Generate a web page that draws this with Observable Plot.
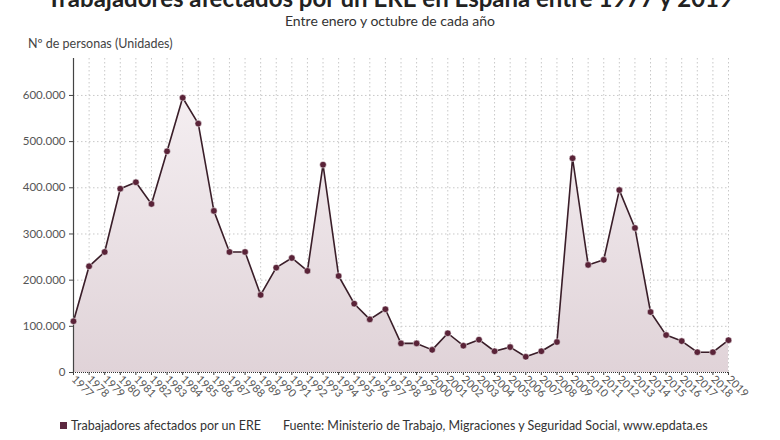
<!DOCTYPE html>
<html>
<head>
<meta charset="utf-8">
<script src="https://cdn.jsdelivr.net/npm/d3@7"></script>
<script src="https://cdn.jsdelivr.net/npm/@observablehq/plot@0.6"></script>
<style>
  html, body { margin: 0; padding: 0; background: #fff; }
  body { width: 780px; height: 440px; position: relative; overflow: hidden; font-family: Lato, "Open Sans", sans-serif; }
  .title { position: absolute; top: -17px; left: 0; width: 780px; text-align: center; font-size: 24px; font-weight: bold; color: #222; white-space: nowrap; }
  .subtitle { position: absolute; top: 12px; left: 0; width: 780px; text-align: center; font-size: 14px; color: #333; }
  .ylabel { position: absolute; top: 36px; left: 28px; font-size: 12.5px; color: #444; }
  #chart { position: absolute; top: 50px; left: 0; }
  .legend { position: absolute; top: 418px; left: 60px; font-size: 12.5px; color: #333; white-space: nowrap; }
  .legend .sw { display: inline-block; width: 7px; height: 7px; background: #5c2840; margin-right: 4px; vertical-align: 1px; }
  .legend .src { margin-left: 22px; }
</style>
</head>
<body>
<div class="title">Trabajadores afectados por un ERE en España entre 1977 y 2019</div>
<div class="subtitle">Entre enero y octubre de cada año</div>
<div class="ylabel">Nº de personas (Unidades)</div>
<div id="chart"></div>
<div class="legend"><span class="sw"></span>Trabajadores afectados por un ERE<span class="src">Fuente: Ministerio de Trabajo, Migraciones y Seguridad Social, www.epdata.es</span></div>
<script>
const years = d3.range(1977, 2020);
const values = [
  111000, 230000, 261000, 398000, 412000, 365000, 479000, 595000, 539000, 350000,
  261000, 261000, 168000, 227000, 248000, 220000, 450000, 209000, 149000, 115000,
  137000, 63000, 63000, 49000, 85000, 58000, 71000, 46000, 55000, 34000,
  46000, 66000, 464000, 233000, 244000, 395000, 313000, 131000, 81000, 68000,
  44000, 44000, 70000
];
const yTicks = [0, 100000, 200000, 300000, 400000, 500000, 600000];

const data = years.map((y, i) => ({year: y, value: values[i]}));
const fmt = d3.formatLocale({decimal: ",", thousands: ".", grouping: [3], currency: ["", "€"]}).format(",");

const plot = Plot.plot({
  width: 780,
  height: 355,
  marginTop: 8,
  marginBottom: 33,
  marginLeft: 73,
  marginRight: 52,
  style: {fontFamily: "Lato, 'Open Sans', sans-serif", fontSize: "11px", color: "#555", background: "transparent"},
  x: {type: "linear", domain: [years[0], years[years.length - 1]], label: null},
  y: {domain: [0, 680000], label: null},
  marks: [
    () => {
      const ns = "http://www.w3.org/2000/svg";
      const defs = document.createElementNS(ns, "defs");
      defs.innerHTML = `<linearGradient id="areaGrad" x1="0" y1="0" x2="0" y2="1" gradientUnits="objectBoundingBox">
        <stop offset="0" stop-color="#f4eef1"/>
        <stop offset="1" stop-color="#e0d3d8"/>
      </linearGradient>`;
      return defs;
    },
    Plot.gridX(years, {stroke: "#c8c8c8", strokeOpacity: 1, strokeDasharray: "1.5,2.5"}),
    Plot.gridY(yTicks.slice(1), {stroke: "#c8c8c8", strokeOpacity: 1, strokeDasharray: "1.5,2.5"}),
    Plot.areaY(data, {x: "year", y: "value", fill: "url(#areaGrad)"}),
    Plot.ruleY([0], {stroke: "#333", strokeDasharray: "1,1"}),
    Plot.ruleX([years[0]], {stroke: "#444", strokeWidth: 1.2}),
    Plot.axisY({ticks: yTicks, tickFormat: d => d === 0 ? "0" : fmt(d), tickSize: 4, tickPadding: 4, fontSize: 11.5, stroke: "#444"}),
    Plot.axisX({ticks: years, tickFormat: d => String(d), tickRotate: 45, tickSize: 3, tickPadding: 2, fontSize: 11, stroke: "#444"}),
    Plot.lineY(data, {x: "year", y: "value", stroke: "#3a1e29", strokeWidth: 1.6}),
    Plot.dot(data, {x: "year", y: "value", r: 3.3, fill: "#5a2338", stroke: "#fff", strokeWidth: 0.5})
  ]
});
document.getElementById("chart").appendChild(plot);
</script>
</body>
</html>
